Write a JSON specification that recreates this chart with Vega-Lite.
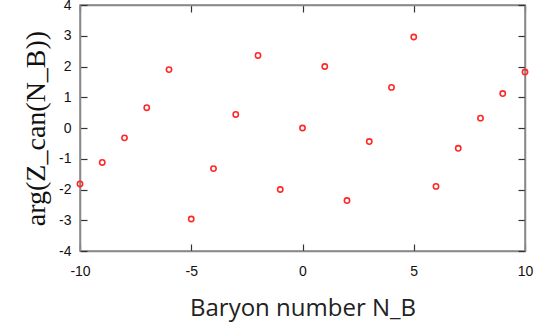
{
  "$schema": "https://vega.github.io/schema/vega-lite/v6.json",
  "width": 445,
  "height": 246,
  "autosize": {"type": "none"},
  "padding": {"left": 80, "top": 5, "right": 18, "bottom": 78},
  "background": "white",
  "config": {
    "view": {"stroke": "#888888", "strokeWidth": 1.5},
    "axis": {"grid": false, "domainColor": "#888888", "domainWidth": 1.5, "tickColor": "#333333", "tickWidth": 1.2, "tickSize": -7, "labelFont": "Liberation Sans", "labelFontSize": 14, "labelColor": "#111111", "labelExpr": "toString(datum.value)"}
  },
  "data": {"values": [
    {"NB": -10, "arg": -1.82},
    {"NB": -9, "arg": -1.12},
    {"NB": -8, "arg": -0.32},
    {"NB": -7, "arg": 0.66},
    {"NB": -6, "arg": 1.9},
    {"NB": -5, "arg": -2.96},
    {"NB": -4, "arg": -1.32},
    {"NB": -3, "arg": 0.44},
    {"NB": -2, "arg": 2.36},
    {"NB": -1, "arg": -2.0},
    {"NB": 0, "arg": 0.0},
    {"NB": 1, "arg": 2.0},
    {"NB": 2, "arg": -2.36},
    {"NB": 3, "arg": -0.44},
    {"NB": 4, "arg": 1.32},
    {"NB": 5, "arg": 2.96},
    {"NB": 6, "arg": -1.9},
    {"NB": 7, "arg": -0.66},
    {"NB": 8, "arg": 0.32},
    {"NB": 9, "arg": 1.12},
    {"NB": 10, "arg": 1.82}
  ]},
  "layer": [
    {
      "mark": {"type": "point", "shape": "circle", "filled": false, "color": "#ff2828", "strokeWidth": 1.6, "size": 28, "opacity": 1},
      "encoding": {
        "x": {"field": "NB", "type": "quantitative", "scale": {"domain": [-10, 10], "nice": false, "zero": false},
          "axis": {"values": [-10, -5, 0, 5, 10], "title": "Baryon number N_B", "titleFont": "Open Sans", "titleFontSize": 24, "titleFontWeight": "normal", "titleColor": "#222222", "titlePadding": 18, "labelPadding": 20, "labelFlush": false}},
        "y": {"field": "arg", "type": "quantitative", "scale": {"domain": [-4, 4], "nice": false, "zero": false},
          "axis": {"values": [-4, -3, -2, -1, 0, 1, 2, 3, 4], "title": "arg(Z_can(N_B))", "titleFont": "Liberation Serif", "titleFontSize": 28, "titleFontWeight": "normal", "titleColor": "#111111", "titlePadding": 8, "labelPadding": 16}}
      }
    },
    {
      "mark": {"type": "point", "opacity": 0},
      "encoding": {
        "x": {"field": "NB", "type": "quantitative", "scale": {"domain": [-10, 10], "nice": false, "zero": false},
          "axis": {"orient": "top", "values": [-10, -5, 0, 5, 10], "labels": false, "title": null}},
        "y": {"field": "arg", "type": "quantitative", "scale": {"domain": [-4, 4], "nice": false, "zero": false},
          "axis": {"orient": "right", "values": [-4, -3, -2, -1, 0, 1, 2, 3, 4], "labels": false, "title": null}}
      }
    }
  ],
  "resolve": {"axis": {"x": "independent", "y": "independent"}}
}
